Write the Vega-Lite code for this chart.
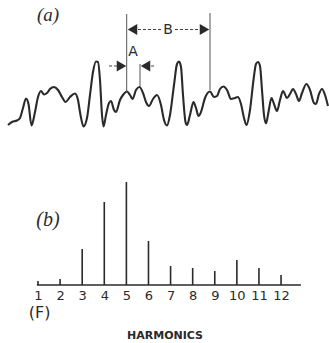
{
  "$schema": "https://vega.github.io/schema/vega-lite/v6.json",
  "padding": 0,
  "spacing": 0,
  "bounds": "flush",
  "background": "white",
  "config": {"view": {"stroke": null}, "axis": {"labelOverlap": false}},
  "vconcat": [
    {
      "width": 329,
      "height": 140,
      "layer": [
        {
          "data": {"values": [
            {"t": 8, "y": 125}, {"t": 12, "y": 122}, {"t": 17, "y": 120.5}, {"t": 20, "y": 118}, {"t": 23, "y": 108}, {"t": 26, "y": 98.5}, {"t": 28.5, "y": 104}, {"t": 31.5, "y": 125.5}, {"t": 35, "y": 112}, {"t": 38, "y": 97}, {"t": 41, "y": 91}, {"t": 44, "y": 94.5}, {"t": 47, "y": 93}, {"t": 50, "y": 89}, {"t": 54, "y": 87}, {"t": 58, "y": 90}, {"t": 62, "y": 97}, {"t": 65.5, "y": 102}, {"t": 70, "y": 97}, {"t": 75, "y": 93.5}, {"t": 78, "y": 100}, {"t": 80.5, "y": 115}, {"t": 83.5, "y": 126.5}, {"t": 87, "y": 118}, {"t": 90, "y": 95}, {"t": 93, "y": 72}, {"t": 96, "y": 61.5}, {"t": 98, "y": 62}, {"t": 100, "y": 80}, {"t": 102, "y": 115}, {"t": 103.5, "y": 126.5}, {"t": 106, "y": 115}, {"t": 109, "y": 103}, {"t": 111, "y": 101}, {"t": 114, "y": 110}, {"t": 116, "y": 112}, {"t": 120, "y": 100}, {"t": 123, "y": 95}, {"t": 127, "y": 91.5}, {"t": 130, "y": 95}, {"t": 132.5, "y": 99}, {"t": 136, "y": 90}, {"t": 139.5, "y": 87}, {"t": 143, "y": 93}, {"t": 146, "y": 102}, {"t": 149, "y": 106}, {"t": 153, "y": 99}, {"t": 157, "y": 95}, {"t": 161, "y": 105}, {"t": 164, "y": 120}, {"t": 167, "y": 125.5}, {"t": 170, "y": 115}, {"t": 174, "y": 85}, {"t": 177, "y": 64}, {"t": 179, "y": 61.5}, {"t": 181, "y": 67}, {"t": 183, "y": 95}, {"t": 185.5, "y": 122}, {"t": 187, "y": 125}, {"t": 190, "y": 115}, {"t": 193.5, "y": 102}, {"t": 196, "y": 108}, {"t": 198.5, "y": 116}, {"t": 201, "y": 112}, {"t": 205, "y": 98}, {"t": 210, "y": 91.5}, {"t": 214, "y": 97}, {"t": 217, "y": 96}, {"t": 220, "y": 89}, {"t": 223.5, "y": 86.5}, {"t": 227, "y": 90}, {"t": 231, "y": 99}, {"t": 235, "y": 98}, {"t": 238, "y": 97}, {"t": 241, "y": 104}, {"t": 244, "y": 118}, {"t": 246.5, "y": 125}, {"t": 250, "y": 110}, {"t": 253.5, "y": 80}, {"t": 256, "y": 64}, {"t": 258, "y": 62}, {"t": 260, "y": 66}, {"t": 262, "y": 90}, {"t": 264, "y": 115}, {"t": 266, "y": 123.5}, {"t": 268.5, "y": 112}, {"t": 271.5, "y": 98}, {"t": 274, "y": 104}, {"t": 277, "y": 111}, {"t": 280, "y": 100}, {"t": 283, "y": 91}, {"t": 287, "y": 98}, {"t": 290, "y": 94}, {"t": 293, "y": 89}, {"t": 296, "y": 94}, {"t": 299, "y": 101}, {"t": 302, "y": 93}, {"t": 306.5, "y": 84}, {"t": 310, "y": 90}, {"t": 314, "y": 103}, {"t": 316, "y": 104}, {"t": 319, "y": 94}, {"t": 322, "y": 89}, {"t": 325, "y": 95}, {"t": 328, "y": 106}
          ]},
          "mark": {"type": "line", "interpolate": "monotone", "stroke": "#2a2a2a", "strokeWidth": 2.1},
          "encoding": {
            "x": {"field": "t", "type": "quantitative", "scale": {"domain": [0, 329], "nice": false, "zero": false}, "axis": null},
            "y": {"field": "y", "type": "quantitative", "scale": {"domain": [140, 0], "nice": false, "zero": false}, "axis": null}
          }
        },
        {
          "data": {"values": [
            {"t": 126.7, "y1": 14, "y2": 93},
            {"t": 210, "y1": 13, "y2": 90},
            {"t": 140, "y1": 64, "y2": 86}
          ]},
          "mark": {"type": "rule", "stroke": "#555", "strokeWidth": 1},
          "encoding": {
            "x": {"field": "t", "type": "quantitative", "scale": {"domain": [0, 329], "nice": false, "zero": false}, "axis": null},
            "y": {"field": "y1", "type": "quantitative", "scale": {"domain": [140, 0], "nice": false, "zero": false}, "axis": null},
            "y2": {"field": "y2"}
          }
        },
        {
          "data": {"values": [
            {"t1": 133, "t2": 161, "y": 29.5},
            {"t1": 175, "t2": 204, "y": 29.5},
            {"t1": 109, "t2": 121, "y": 66},
            {"t1": 146, "t2": 156, "y": 66}
          ]},
          "mark": {"type": "rule", "stroke": "#444", "strokeWidth": 1.1, "strokeDash": [3, 2]},
          "encoding": {
            "x": {"field": "t1", "type": "quantitative", "scale": {"domain": [0, 329], "nice": false, "zero": false}, "axis": null},
            "x2": {"field": "t2"},
            "y": {"field": "y", "type": "quantitative", "scale": {"domain": [140, 0], "nice": false, "zero": false}, "axis": null}
          }
        },
        {
          "data": {"values": [
            {"t": 132.5, "y": 29.5, "s": "triangle-left"},
            {"t": 204.5, "y": 29.5, "s": "triangle-right"},
            {"t": 121.5, "y": 66, "s": "triangle-right"},
            {"t": 145.5, "y": 66, "s": "triangle-left"}
          ]},
          "mark": {"type": "point", "filled": true, "fill": "#2a2a2a", "stroke": null, "size": 120, "opacity": 1},
          "encoding": {
            "x": {"field": "t", "type": "quantitative", "scale": {"domain": [0, 329], "nice": false, "zero": false}, "axis": null},
            "y": {"field": "y", "type": "quantitative", "scale": {"domain": [140, 0], "nice": false, "zero": false}, "axis": null},
            "shape": {"field": "s", "type": "nominal", "scale": null}
          }
        },
        {
          "data": {"values": [
            {"t": 168, "y": 30, "label": "B"},
            {"t": 133, "y": 52, "label": "A"}
          ]},
          "mark": {"type": "text", "font": "DejaVu Sans", "fontSize": 14, "fill": "#2a2a2a", "baseline": "middle", "align": "center"},
          "encoding": {
            "x": {"field": "t", "type": "quantitative", "scale": {"domain": [0, 329], "nice": false, "zero": false}, "axis": null},
            "y": {"field": "y", "type": "quantitative", "scale": {"domain": [140, 0], "nice": false, "zero": false}, "axis": null},
            "text": {"field": "label"}
          }
        },
        {
          "data": {"values": [{"t": 48, "y": 15, "label": "(a)"}]},
          "mark": {"type": "text", "font": "Liberation Serif", "fontStyle": "italic", "fontSize": 19, "fill": "#2a2a2a", "baseline": "middle", "align": "center"},
          "encoding": {
            "x": {"field": "t", "type": "quantitative", "scale": {"domain": [0, 329], "nice": false, "zero": false}, "axis": null},
            "y": {"field": "y", "type": "quantitative", "scale": {"domain": [140, 0], "nice": false, "zero": false}, "axis": null},
            "text": {"field": "label"}
          }
        }
      ]
    },
    {
      "width": 329,
      "height": 145,
      "encoding": {
        "x": {"type": "quantitative", "scale": {"domain": [-0.72, 14.17], "nice": false, "zero": false},
          "axis": {"values": [1,2,3,4,5,6,7,8,9,10,11,12], "labelOverlap": false, "labelSeparation": 0, "domain": false, "ticks": false, "grid": false, "labelPadding": 4, "labelFont": "DejaVu Sans", "labelFontSize": 13, "labelColor": "#2a2a2a", "labelFlush": false,
            "title": "HARMONICS", "titleFont": "DejaVu Sans", "titleFontSize": 11, "titleFontWeight": "bold", "titleColor": "#2a2a2a", "titlePadding": 27}},
        "y": {"type": "quantitative", "scale": {"domain": [0, 145], "nice": false, "zero": false}, "axis": null}
      },
      "layer": [
        {
          "data": {"values": [
            {"h": 1, "v": 4}, {"h": 2, "v": 6}, {"h": 3, "v": 36}, {"h": 4, "v": 83}, {"h": 5, "v": 103}, {"h": 6, "v": 44},
            {"h": 7, "v": 19}, {"h": 8, "v": 17}, {"h": 9, "v": 14}, {"h": 10, "v": 25}, {"h": 11, "v": 17}, {"h": 12, "v": 10}
          ]},
          "mark": {"type": "rule", "stroke": "#2a2a2a", "strokeWidth": 1.6},
          "encoding": {
            "x": {"field": "h"},
            "y": {"field": "v"},
            "y2": {"datum": 0}
          }
        },
        {
          "data": {"values": [{"h": 0.95, "h2": 12.9, "v": 0}]},
          "mark": {"type": "rule", "stroke": "#2a2a2a", "strokeWidth": 1.4},
          "encoding": {
            "x": {"field": "h"},
            "x2": {"field": "h2"},
            "y": {"field": "v"}
          }
        },
        {
          "data": {"values": [{"h": 1.45, "v": 65, "label": "(b)"}]},
          "mark": {"type": "text", "font": "Liberation Serif", "fontStyle": "italic", "fontSize": 20, "fill": "#2a2a2a", "baseline": "middle", "align": "center"},
          "encoding": {
            "x": {"field": "h"},
            "y": {"field": "v"},
            "text": {"field": "label"}
          }
        },
        {
          "data": {"values": [{"h": 1.07, "v": -28, "label": "(F)"}]},
          "mark": {"type": "text", "font": "DejaVu Sans", "fontSize": 16, "fill": "#2a2a2a", "baseline": "middle", "align": "center"},
          "encoding": {
            "x": {"field": "h"},
            "y": {"field": "v"},
            "text": {"field": "label"}
          }
        }
      ]
    }
  ]
}
